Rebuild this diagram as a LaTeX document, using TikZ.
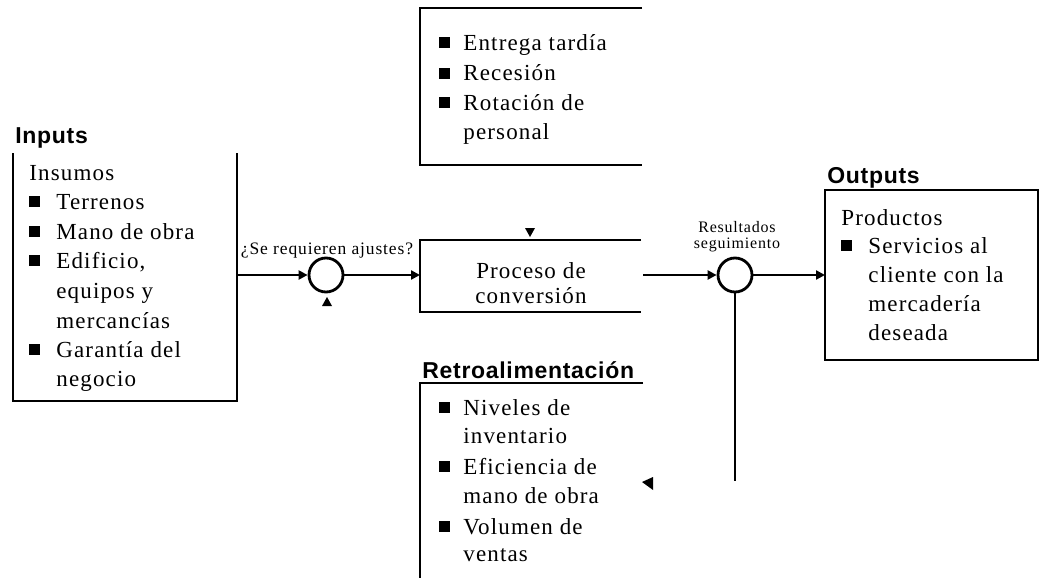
\documentclass[tikz,border=0pt]{standalone}
\usepackage{fontspec}
\setmainfont{Liberation Serif}[LetterSpace=5]
\newfontfamily\titlefont{Liberation Sans}[LetterSpace=3]
\usetikzlibrary{arrows.meta}
\begin{document}
\begin{tikzpicture}[x=1pt,y=-1pt,line width=2.8pt,
  body/.style={anchor=base west,inner sep=0pt,font=\fontsize{23}{26}\selectfont},
  ttl/.style={anchor=base west,inner sep=0pt,font=\titlefont\bfseries\fontsize{23}{26}\selectfont},
  small/.style={inner sep=0pt,align=center,font=\fontsize{17.5}{16}\selectfont},
  small2/.style={inner sep=0pt,align=center,font=\fontsize{16}{16}\selectfont},
  bul/.style={fill=black,draw=none,minimum size=11pt,inner sep=0pt},
  proc/.style={inner sep=0pt,align=center,font=\fontsize{23}{25}\selectfont},
  sumc/.style={circle,draw,minimum size=34pt,inner sep=0pt},
  arr/.style={-{Triangle[length=9pt,width=9pt]}},
  tri/.style={fill=black,draw=none}
]
\useasboundingbox (0,0) rectangle (1040,578);
% ---------- Inputs ----------
\node[ttl] (tin) at (14,143) {Inputs};
\draw (13,153) -- (13,401) -- (237,401) -- (237,153);
\node[body] (i0) at (28,180) {Insumos};
\node[bul] (b1) at (34,201) {}; \node[body] (i1) at (55,209) {Terrenos};
\node[bul] (b2) at (34,231) {}; \node[body] (i2) at (55,239) {Mano de obra};
\node[bul] (b3) at (34,260) {}; \node[body] (i3) at (55,268) {Edificio,};
\node[body] (i4) at (55,298) {equipos y};
\node[body] (i5) at (55,328) {mercancías};
\node[bul] (b6) at (34,349) {}; \node[body] (i6) at (55,357) {Garantía del};
\node[body] (i7) at (55,386) {negocio};
\coordinate (inR) at (237,275);
% ---------- comparator 1 ----------
\node[sumc] (c1) at (326,275) {};
\node[small] (lab1) at (327,251) {¿Se requieren ajustes?};
\fill[tri] (327,297) -- (322,306) -- (332,306) -- cycle;
% ---------- process ----------
\draw (641,240) -- (420,240) -- (420,312) -- (641,312);
\coordinate (pL) at (420,275);
\coordinate (pR) at (643,275);
\node[proc] (pt) at (531,283) {Proceso de\\conversión};
\fill[tri] (525,228) -- (535,228) -- (530,237) -- cycle;
% ---------- disturbances ----------
\draw (642,8) -- (420,8) -- (420,165) -- (642,165);
\node[bul] (d1) at (444,43) {}; \node[body] (t1) at (462,51) {Entrega tardía};
\node[bul] (d2) at (444,73) {}; \node[body] (t2) at (462,81) {Recesión};
\node[bul] (d3) at (444,102) {}; \node[body] (t3) at (462,110) {Rotación de};
\node[body] (t4) at (462,139) {personal};
% ---------- comparator 2 ----------
\node[sumc] (c2) at (735,275) {};
\node[small2] (lab2) at (737,237) {Resultados\\seguimiento};
\coordinate (fb) at (735,481);
% ---------- outputs ----------
\node[ttl] (tout) at (826,183) {Outputs};
\draw (825,190) rectangle (1038,360);
\coordinate (oL) at (825,275);
\node[body] (o0) at (840,225) {Productos};
\node[bul] (ob1) at (846,245) {}; \node[body] (o1) at (867,253) {Servicios al};
\node[body] (o2) at (867,282) {cliente con la};
\node[body] (o3) at (867,311) {mercadería};
\node[body] (o4) at (867,340) {deseada};
% ---------- feedback ----------
\node[ttl] (tfb) at (421,378) {Retroalimentación};
\draw (643,383) -- (420,383) -- (420,578);
\node[bul] (f1) at (444,407) {}; \node[body] (r1) at (462,415) {Niveles de};
\node[body] (r2) at (462,443) {inventario};
\node[bul] (f3) at (444,466) {}; \node[body] (r3) at (462,474) {Eficiencia de};
\node[body] (r4) at (462,503) {mano de obra};
\node[bul] (f5) at (444,526) {}; \node[body] (r5) at (462,534) {Volumen de};
\node[body] (r6) at (462,561) {ventas};
\fill[tri] (642,482) -- (653,477) -- (653,490) -- cycle;
% ---------- connectors ----------
\draw[arr] (inR) -- (c1.west);
\draw[arr] (c1.east) -- (pL);
\draw[arr] (pR) -- (c2.west);
\draw[arr] (c2.east) -- (oL);
\draw (c2.south) -- (fb);
\end{tikzpicture}
\end{document}
